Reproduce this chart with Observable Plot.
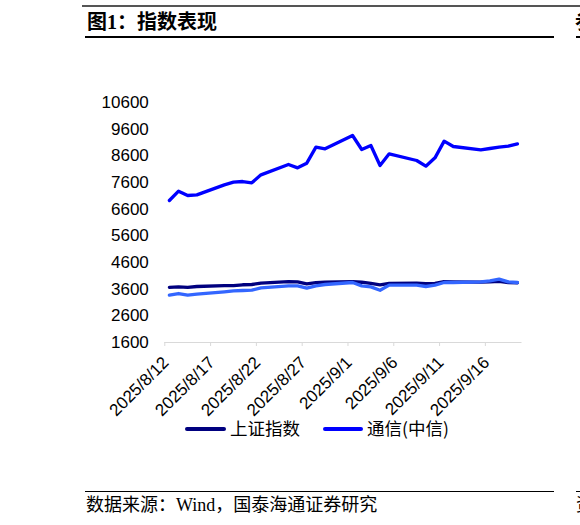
<!DOCTYPE html>
<html>
<head>
<meta charset="utf-8">
<script src="https://cdn.jsdelivr.net/npm/d3@7"></script>
<script src="https://cdn.jsdelivr.net/npm/@observablehq/plot@0.6"></script>
<style>
  html, body { margin: 0; padding: 0; background: #fff; }
  #page { position: relative; width: 580px; height: 525px; overflow: hidden; background: #fff; }
  .abs { position: absolute; white-space: nowrap; }
  .title { font-family: "Liberation Serif", "Noto Sans CJK SC", serif; font-weight: bold; font-size: 20px; line-height: 20px; color: #000; }
  .source { font-family: "Liberation Serif", "Noto Sans CJK SC", serif; font-size: 18px; line-height: 18px; color: #000; }
  .legtext { font-family: "Noto Sans CJK SC", sans-serif; font-size: 17.5px; line-height: 18px; color: #000; }
  .clip { position: absolute; overflow: hidden; }
  #chart { position: absolute; left: 0; top: 0; }
</style>
</head>
<body>
<div id="page">
  <div class="abs" style="left:82px;top:5px;width:498px;height:2px;background:#555;"></div>
  <div class="abs title" style="left:87px;top:12px;">图1：指数表现</div>
  <div class="clip" style="left:575px;top:12px;width:5px;height:22px;"><span class="title" style="position:absolute;left:0;top:0;white-space:nowrap;">参</span></div>
  <div class="abs" style="left:85px;top:36px;width:469px;height:1.5px;background:#000;"></div>
  <div class="abs" style="left:576px;top:36px;width:4px;height:1.5px;background:#000;"></div>
  <div id="chart"></div>
  <div id="legend"></div>
  <div class="abs" style="left:85px;top:491px;width:469px;height:1px;background:#000;"></div>
  <div class="abs" style="left:576px;top:491px;width:4px;height:1px;background:#000;"></div>
  <div class="abs source" style="left:86px;top:496px;">数据来源：Wind，国泰海通证券研究</div>
  <div class="clip" style="left:576px;top:496px;width:4px;height:20px;"><span class="source" style="position:absolute;left:0;top:0;white-space:nowrap;">资</span></div>
</div>
<script>
// ---- data ----
const dates = ["2025-08-12","2025-08-13","2025-08-14","2025-08-15","2025-08-18","2025-08-19","2025-08-20","2025-08-21","2025-08-22",
  "2025-08-25","2025-08-26","2025-08-27","2025-08-28","2025-08-29","2025-09-01","2025-09-02","2025-09-03","2025-09-04","2025-09-05",
  "2025-09-08","2025-09-09","2025-09-10","2025-09-11","2025-09-12","2025-09-15","2025-09-16","2025-09-17","2025-09-18","2025-09-19"];
const shIndex = [3670, 3685, 3670, 3700, 3730, 3730, 3765, 3775, 3830, 3885, 3870, 3800, 3845, 3860, 3880, 3860, 3815, 3765, 3815,
  3830, 3810, 3815, 3880, 3875, 3865, 3870, 3895, 3850, 3840];
const telecom = [6925, 7275, 7112, 7137, 7512, 7612, 7637, 7587, 7887, 8275, 8150, 8325, 8925, 8862, 9362, 8837, 8987, 8237, 8675,
  8425, 8212, 8525, 9150, 8950, 8825, 8875, 8925, 8962, 9050];
const otherIndex = [3375, 3437, 3375, 3412, 3500, 3537, 3550, 3562, 3650, 3725, 3725, 3637, 3725, 3775, 3850, 3725, 3687, 3560, 3750,
  3750, 3700, 3750, 3850, 3850, 3875, 3912, 3975, 3875, 3850];
const seriesNames = ["上证指数", "通信(中信)", ""];
const seriesColors = ["#00007f", "#0000ff", "#3366ff"];
const yTicks = [1600, 2600, 3600, 4600, 5600, 6600, 7600, 8600, 9600, 10600];
const xTickLabels = ["2025/8/12","2025/8/17","2025/8/22","2025/8/27","2025/9/1","2025/9/6","2025/9/11","2025/9/16"];
const xDomain = ["2025-08-12", "2025-09-20"];

// ---- build ----
const parse = d3.utcParse("%Y-%m-%d");
const parseTick = d3.utcParse("%Y/%m/%d");
const fmt = d3.utcFormat("%Y/%-m/%-d");
const mkRows = vals => dates.map((d, i) => ({date: d3.utcHour.offset(parse(d), 12), value: vals[i]}));
const rowsSH = mkRows(shIndex), rowsTel = mkRows(telecom), rowsOther = mkRows(otherIndex);
const xTicks = xTickLabels.map(s => parseTick(s));

const chart = Plot.plot({
  width: 580,
  height: 440,
  marginLeft: 164.3,
  marginRight: 58.5,
  marginTop: 102,
  marginBottom: 98,
  style: {fontFamily: "'Liberation Sans', Arial, sans-serif", fontSize: "17px", color: "#000", background: "transparent", overflow: "visible"},
  x: {type: "utc", domain: xDomain.map(parse), label: null},
  y: {domain: [yTicks[0], yTicks[yTicks.length - 1]], label: null},
  marks: [
    Plot.axisY(yTicks, {tickSize: 0, tickPadding: 16, tickFormat: d => String(d), fontSize: 17, label: null}),
    Plot.ruleY([yTicks[0]], {stroke: "#d9d9d9", strokeWidth: 1}),
    Plot.axisX(xTicks, {tickSize: 4, tickFormat: () => "", stroke: "#d9d9d9", label: null}),
    Plot.text(xTicks, {x: d => d, frameAnchor: "bottom", text: d => fmt(d), rotate: -45, textAnchor: "end", dx: 5, dy: 21, fontSize: 17, fill: "#000"}),
    Plot.line(rowsSH, {x: "date", y: "value", stroke: seriesColors[0], strokeWidth: 3.3, strokeLinejoin: "round"}),
    Plot.line(rowsOther, {x: "date", y: "value", stroke: seriesColors[2], strokeWidth: 3.3, strokeLinejoin: "round"}),
    Plot.line(rowsTel, {x: "date", y: "value", stroke: seriesColors[1], strokeWidth: 3.3, strokeLinejoin: "round"})
  ]
});
document.getElementById("chart").appendChild(chart);

// ---- legend ----
const legend = document.getElementById("legend");
const legendItems = [
  {name: seriesNames[0], color: seriesColors[0], lineLeft: 185, lineWidth: 41, textLeft: 230},
  {name: seriesNames[1], color: seriesColors[1], lineLeft: 323, lineWidth: 40, textLeft: 367}
];
legendItems.forEach(it => {
  const ln = document.createElement("div");
  ln.className = "abs";
  ln.style.cssText = `left:${it.lineLeft}px;top:427px;width:${it.lineWidth}px;height:3.5px;background:${it.color};border-radius:2px;`;
  legend.appendChild(ln);
  const tx = document.createElement("div");
  tx.className = "abs legtext";
  tx.style.cssText = `left:${it.textLeft}px;top:419px;`;
  tx.textContent = it.name;
  legend.appendChild(tx);
});
</script>
</body>
</html>
